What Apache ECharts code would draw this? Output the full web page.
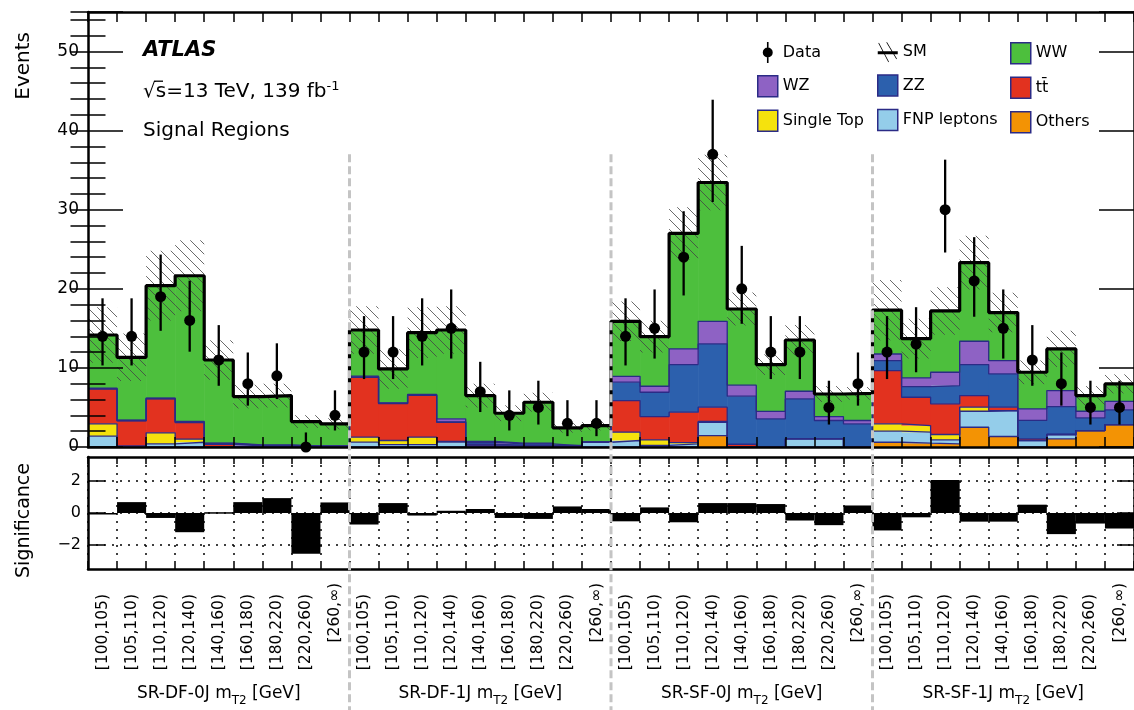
<!DOCTYPE html>
<html><head><meta charset="utf-8">
<script src="https://cdn.jsdelivr.net/npm/echarts@6/dist/echarts.min.js"></script>
<style>html,body{margin:0;padding:0;background:#fff}#c{width:1134px;height:710px}</style>
</head><body><div id="c"></div>
<script>
// ---------- data ----------
const mRanges = ['[100,105)','[105,110)','[110,120)','[120,140)','[140,160)','[160,180)','[180,220)','[220,260)','[260,\u221E)'];
const regionNames = ['SR-DF-0J','SR-DF-1J','SR-SF-0J','SR-SF-1J'];
const binLabels = [].concat(mRanges, mRanges, mRanges, mRanges);

const others    = [0,0,0,0,0,0,0,0,0, 0,0,0,0,0,0,0,0,0, 0,0,0,1.45,0,0,0,0,0, 0.6,0.48,0.4,2.5,1.33,0,1.03,2.08,2.84];
const fnp       = [1.37,0.1,0.4,0.6,0.05,0.05,0.05,0.05,0.05, 0.61,0.3,0.3,0.61,0.15,0.1,0.1,0.05,0.6, 0.82,0.2,0.4,1.68,0.05,0.05,1.03,1.03,0.05, 1.4,1.39,0.5,2.02,3.27,0.82,0.55,0,0];
const singleTop = [1.56,0,1.39,0.4,0,0,0,0,0, 0.63,0.52,0.94,0.1,0,0,0,0,0, 1.05,0.7,0.15,0.1,0,0,0,0,0, 0.93,0.84,0.68,0.51,0,0,0,0,0];
const ttbar     = [4.4,3.2,4.29,2.1,0.3,0.1,0.1,0.05,0.05, 7.56,4.66,5.3,2.42,0.2,0.1,0.1,0.05,0, 4.0,2.95,3.85,1.8,0.3,0,0,0,0, 6.73,3.58,3.88,1.47,0.43,0.2,0,0,0];
const zz        = [0.05,0.05,0.05,0.05,0.1,0.05,0.05,0,0, 0.05,0.05,0.05,0.05,0.25,0.2,0.2,0.05,0, 2.32,3.07,6.02,8.0,6.08,3.5,5.05,2.32,2.88, 1.26,1.35,2.31,3.92,4.21,2.34,3.53,1.6,1.85];
const wz        = [0.05,0.05,0.05,0.1,0.05,0.05,0.05,0.05,0.05, 0.1,0.05,0.05,0.38,0.1,0.1,0.1,0.05,0, 0.75,0.76,1.98,2.86,1.39,0.96,0.97,0.5,0.42, 0.84,1.09,1.68,2.95,1.68,1.46,2.02,0.84,1.09];
const ww        = [6.73,7.94,14.22,18.4,10.5,6.13,6.25,3.07,2.78, 5.84,4.29,7.82,11.23,5.8,3.77,5.16,2.22,2.11, 6.95,6.27,14.6,17.55,9.63,5.9,6.48,2.85,3.43, 5.54,4.97,7.75,9.93,6.08,4.63,5.27,1.98,2.2];
const smUnc     = [3.5,3.0,4.4,4.5,2.5,1.5,1.5,0.8,0.7, 3.0,2.5,3.2,3.0,1.5,1.0,1.2,0.6,0.6, 2.5,2.0,3.3,3.5,2.1,1.3,1.9,1.0,0.8, 3.8,2.5,3.0,3.4,2.5,1.5,2.3,1.2,1.2];

const dataObs = [14,14,19,16,11,8,9,0,4, 12,12,14,15,7,4,5,3,3, 14,15,24,37,20,12,12,5,8, 12,13,30,21,15,11,8,5,5];
const dataLo  = [10.31,10.31,14.69,12.05,7.74,5.23,6.06,0,2.09, 8.59,8.59,10.31,11.18,4.42,2.09,2.84,1.37,1.37, 10.31,11.18,19.16,30.98,15.58,8.59,8.59,2.84,5.23, 8.59,9.45,24.59,16.47,11.18,7.74,5.23,2.84,2.84];
const dataHi  = [18.80,18.80,24.33,21.03,15.41,11.95,13.11,1.84,7.16, 16.55,16.55,18.80,19.92,10.77,7.16,8.38,5.92,5.92, 18.80,19.92,29.81,43.91,25.43,16.55,16.55,8.38,11.95, 16.55,17.68,36.33,26.53,19.92,15.41,11.95,8.38,8.38];

const significance = [-0.03,0.68,-0.31,-1.2,0.05,0.68,0.93,-2.55,0.66, -0.72,0.62,-0.16,0.14,0.25,-0.31,-0.37,0.41,0.25, -0.52,0.35,-0.58,0.62,0.62,0.56,-0.47,-0.76,0.47, -1.09,-0.27,2.06,-0.54,-0.54,0.52,-1.32,-0.66,-0.97];
const sigTicks = [-2, 0, 2];

// ---------- styling ----------
const FONT = "'DejaVu Sans'";
const NAVY = '#2b2b86';
const TTNAME = 't' + 't\u0304';
const comps = [
  {name:'Others',      vals: others,    color:'#f39304'},
  {name:'FNP leptons', vals: fnp,       color:'#94cdea'},
  {name:'Single Top',  vals: singleTop, color:'#f5e20d'},
  {name:TTNAME,        vals: ttbar,     color:'#e2321f'},
  {name:'ZZ',          vals: zz,        color:'#2c60ad'},
  {name:'WZ',          vals: wz,        color:'#8e62c4'},
  {name:'WW',          vals: ww,        color:'#4dbf3d'}
];

// hatch pattern
const hatch = document.createElement('canvas');
hatch.width = 10; hatch.height = 10;
(function(){const g = hatch.getContext('2d'); g.strokeStyle = '#444'; g.lineWidth = 0.8;
  g.beginPath(); g.moveTo(-1,-1); g.lineTo(11,11); g.stroke();
  g.beginPath(); g.moveTo(-1,9); g.lineTo(1,11); g.stroke();
  g.beginPath(); g.moveTo(9,-1); g.lineTo(11,1); g.stroke();})();

function rectItem(params, api){
  const x0 = api.value(0), lo = api.value(1), hi = api.value(2);
  const p0 = api.coord([x0, hi]), p1 = api.coord([x0 + 1, lo]);
  return {type:'rect', shape:{x:p0[0], y:p0[1], width:p1[0]-p0[0]+0.6, height:p1[1]-p0[1]},
          style:{fill: api.visual('color')}};
}

const nBins = dataObs.length;
const base = new Array(nBins).fill(0);
const series = [];
comps.forEach(c => {
  const items = [], outline = [];
  for (let i = 0; i < nBins; i++) {
    const lo = base[i], hi = base[i] + c.vals[i];
    items.push([i, lo, hi]); outline.push([i, hi], [i + 1, hi]);
    base[i] = hi;
  }
  series.push({type:'custom', name:c.name, xAxisIndex:0, yAxisIndex:0, renderItem:rectItem,
    itemStyle:{color:c.color}, data:items, z:2, silent:true, encode:{x:0, y:[1,2]}});
  series.push({type:'line', name:'_o_' + c.name, xAxisIndex:0, yAxisIndex:0, data:outline,
    symbol:'none', showSymbol:false, silent:true, z:3, lineStyle:{color:NAVY, width:1.3}});
});
const total = base.slice();
const smLine = [], hatchItems = [];
for (let i = 0; i < nBins; i++) {
  smLine.push([i, total[i]], [i + 1, total[i]]);
  hatchItems.push([i, total[i] - smUnc[i], total[i] + smUnc[i]]);
}
series.push({type:'custom', name:'_hatch', xAxisIndex:0, yAxisIndex:0, silent:true, z:4,
  renderItem: function(params, api){
    const x0 = api.value(0), lo = api.value(1), hi = api.value(2);
    const p0 = api.coord([x0, hi]), p1 = api.coord([x0 + 1, lo]);
    return {type:'rect', shape:{x:p0[0], y:p0[1], width:p1[0]-p0[0], height:p1[1]-p0[1]},
            style:{fill:{image:hatch, repeat:'repeat'}}};
  }, data: hatchItems});
series.push({type:'line', name:'SM', xAxisIndex:0, yAxisIndex:0, data:smLine, symbol:'none', showSymbol:false,
  silent:true, z:6, itemStyle:{color:'#000'}, lineStyle:{color:'#000', width:3.2}});
// data error bars
series.push({type:'custom', name:'_err', xAxisIndex:0, yAxisIndex:0, silent:true, z:7,
  renderItem: function(params, api){
    const x = api.value(0), p0 = api.coord([x, api.value(1)]), p1 = api.coord([x, api.value(2)]);
    return {type:'line', shape:{x1:p0[0], y1:p0[1], x2:p1[0], y2:p1[1]}, style:{stroke:'#000', lineWidth:2.3}};
  }, data: dataObs.map((v, i) => [i + 0.5, dataLo[i], dataHi[i]])});
series.push({type:'scatter', name:'Data', xAxisIndex:0, yAxisIndex:0, symbol:'circle', symbolSize:11,
  clip:false, silent:true, z:8, itemStyle:{color:'#000', opacity:1}, data: dataObs.map((v, i) => [i + 0.5, v])});
// region separators
const perRegion = mRanges.length;
series.push({type:'custom', name:'_sep', xAxisIndex:0, yAxisIndex:0, silent:true, z:9, clip:false,
  renderItem: function(params, api){
    const p = api.coord([api.value(0), 37]);
    return {type:'line', shape:{x1:p[0], y1:p[1], x2:p[0], y2:api.getHeight()},
            style:{stroke:'#c4c4c4', lineWidth:3, lineDash:[8,4]}};
  }, data: [[perRegion], [2 * perRegion], [3 * perRegion]]});
// significance panel
series.push({type:'custom', name:'_grid', xAxisIndex:2, yAxisIndex:4, silent:true, z:1,
  renderItem: function(params, api){
    const v = api.value(0), p0 = api.coord([0, v]), p1 = api.coord([nBins, v]);
    return {type:'line', shape:{x1:p0[0], y1:p0[1], x2:p1[0], y2:p1[1]},
            style:{stroke:'#000', lineWidth:1.5, lineDash:[2,6]}};
  }, data: sigTicks.map(v => [v])});
series.push({type:'custom', name:'_sig', xAxisIndex:2, yAxisIndex:4, silent:true, z:3,
  renderItem: function(params, api){
    const x0 = api.value(0), s = api.value(1);
    const pa = api.coord([x0, Math.max(s, 0)]), pb = api.coord([x0 + 1, Math.min(s, 0)]);
    return {type:'rect', shape:{x:pa[0], y:pa[1], width:pb[0]-pa[0], height:Math.max(pb[1]-pa[1], 1.5)},
            style:{fill:'#000'}};
  }, data: significance.map((s, i) => [i, s])});

// ---------- axes ----------
const axLine = {show:true, onZero:false, lineStyle:{color:'#000', width:2.5}};
function xVal(grid, pos, tickLen, z, split){
  return {gridIndex:grid, type:'value', min:0, max:nBins, interval:1, position:pos, z:z,
    axisLine:axLine, axisTick:{show:true, inside:true, length:tickLen, lineStyle:{color:'#000', width:1.5}},
    axisLabel:{show:false}, splitLine: split ? {show:true, lineStyle:{color:'#000', width:1.5, type:[2,6]}} : {show:false}};
}
const xAxes = [
  xVal(0, 'bottom', 10, 5, false),
  xVal(0, 'top', 10, 5, false),
  xVal(1, 'bottom', 6, 1, true),
  xVal(1, 'top', 7, 1, false),
  {gridIndex:1, type:'category', data:binLabels, position:'bottom', axisLine:{show:false}, axisTick:{show:false},
   axisLabel:{interval:0, rotate:90, margin:14, color:'#000', fontFamily:FONT, fontSize:15.5,
     formatter: v => v.indexOf('\u221E') >= 0 ? '{i|' + v + '}' : '{n|' + v + '}',
     rich:{n:{fontFamily:FONT, fontSize:15.5, color:'#000', padding:[0,11,0,0]}, i:{fontFamily:FONT, fontSize:15.5, color:'#000'}}}},
  {gridIndex:1, type:'category', data:regionNames, position:'bottom', axisLine:{show:false}, axisTick:{show:false},
   axisLabel:{interval:0, margin:112, color:'#000',
     formatter: v => '{a|' + v + ' m}{b|T2}{a| [GeV]}',
     rich:{a:{fontFamily:FONT, fontSize:17, color:'#000', lineHeight:26},
           b:{fontFamily:FONT, fontSize:12, color:'#000', lineHeight:12, verticalAlign:'bottom'}}}}
];
function yTop(pos, interval, len, labels){
  return {gridIndex:0, type:'value', min:0, max:55, interval:interval, position:pos, z:5,
    axisLine: labels !== null ? axLine : {show:false},
    axisTick:{show:true, inside:true, length:len, lineStyle:{color:'#000', width:1.5}},
    axisLabel: labels ? {show:true, color:'#000', fontFamily:FONT, fontSize:17, margin:9,
      formatter: v => (v > 50 ? '' : String(v))} : {show:false},
    splitLine:{show:false}};
}
const sigFmt = v => (v < 0 ? '\u2212' + (-v) : String(v));
function ySig(pos, labels){
  return {gridIndex:1, type:'value', min:-3.5, max:3.5, position:pos, z:5, axisLine:axLine,
    axisTick:{show:true, inside:true, length:17, customValues:sigTicks, lineStyle:{color:'#000', width:1.5}},
    axisLabel: labels ? {show:true, customValues:sigTicks, color:'#000', fontFamily:FONT, fontSize:16, margin:7, formatter:sigFmt} : {show:false},
    splitLine:{show:false}};
}
const yAxes = [
  yTop('left', 10, 35, true),
  yTop('left', 2, 17.5, null),
  yTop('right', 10, 35, false),
  yTop('right', 2, 17.5, null),
  ySig('left', true),
  ySig('right', false)
];

// ---------- legend ----------
const boxStyle = c => ({color:c.color, borderColor:NAVY, borderWidth:1.5});
const compByName = n => comps.find(c => c.name === n);
const dataIcon = 'path://M4.2,0H5.8V21H4.2Z M0,10.5A5,5,0,1,1,10,10.5A5,5,0,1,1,0,10.5Z';
const smIcon = 'path://M0,9.3H20V12.3H0Z M0.6,1.2L1.2,0.8L11.2,19.8L10.6,20.2Z M8.6,0.4L9.2,0L19.2,16.8L18.6,17.2Z';
function legendCol(left, items){
  return {left:left, top:42, padding:0, orient:'vertical', itemGap:12, itemWidth:20, itemHeight:21, selectedMode:false,
    textStyle:{fontFamily:FONT, fontSize:16, color:'#000'}, data:items};
}
const legends = [
  legendCol(757, [{name:'Data', icon:dataIcon, itemStyle:{color:'#000'}},
                  {name:'WZ', icon:'rect', itemStyle:boxStyle(compByName('WZ'))},
                  {name:'Single Top', icon:'rect', itemStyle:boxStyle(compByName('Single Top'))}]),
  legendCol(877, [{name:'SM', icon:smIcon, itemStyle:{color:'#000'}},
                  {name:'ZZ', icon:'rect', itemStyle:boxStyle(compByName('ZZ'))},
                  {name:'FNP leptons', icon:'rect', itemStyle:boxStyle(compByName('FNP leptons'))}]),
  legendCol(1010, [{name:'WW', icon:'rect', itemStyle:boxStyle(compByName('WW'))},
                   {name:TTNAME, icon:'rect', itemStyle:boxStyle(compByName(TTNAME))},
                   {name:'Others', icon:'rect', itemStyle:boxStyle(compByName('Others'))}])
];

const txt = (x, y, text, font, extra) => Object.assign({type:'text', x:x, y:y,
  style:{text:text, font:font, fill:'#000', align:'left', verticalAlign:'middle', textAlign:'left', textVerticalAlign:'middle'}}, extra || {});

const chart = echarts.init(document.getElementById('c'), null, {renderer:'canvas', width:1134, height:710});
chart.setOption({
  animation:false,
  backgroundColor:'#fff',
  grid:[{left:88, top:12, width:1052, height:435}, {left:88, top:457, width:1052, height:112}],
  xAxis:xAxes, yAxis:yAxes, legend:legends, series:series,
  graphic:[
    txt(143, 51, 'ATLAS', 'italic bold 21px ' + FONT),
    {type:'text', x:143, y:92, style:{text:'{r|\u221As=13 TeV, 139 fb}{s|-1}', fill:'#000', align:'left', verticalAlign:'middle', textAlign:'left', textVerticalAlign:'middle',
      rich:{r:{fontFamily:FONT, fontSize:20, lineHeight:24, fill:'#000', color:'#000'}, s:{fontFamily:FONT, fontSize:13, lineHeight:13, verticalAlign:'top', fill:'#000', color:'#000'}}}},
    {type:'line', shape:{x1:154, y1:81.2, x2:163, y2:81.2}, style:{stroke:'#000', lineWidth:1.3}},
    txt(143, 131, 'Signal Regions', '20px ' + FONT),
    {type:'text', x:24, y:32, rotation:Math.PI/2, style:{text:'Events', font:'20px ' + FONT, fill:'#000', align:'right', verticalAlign:'middle', textAlign:'right', textVerticalAlign:'middle'}},
    {type:'text', x:24, y:463, rotation:Math.PI/2, style:{text:'Significance', font:'19px ' + FONT, fill:'#000', align:'right', verticalAlign:'middle', textAlign:'right', textVerticalAlign:'middle'}}
  ]
});
</script>
</body></html>
